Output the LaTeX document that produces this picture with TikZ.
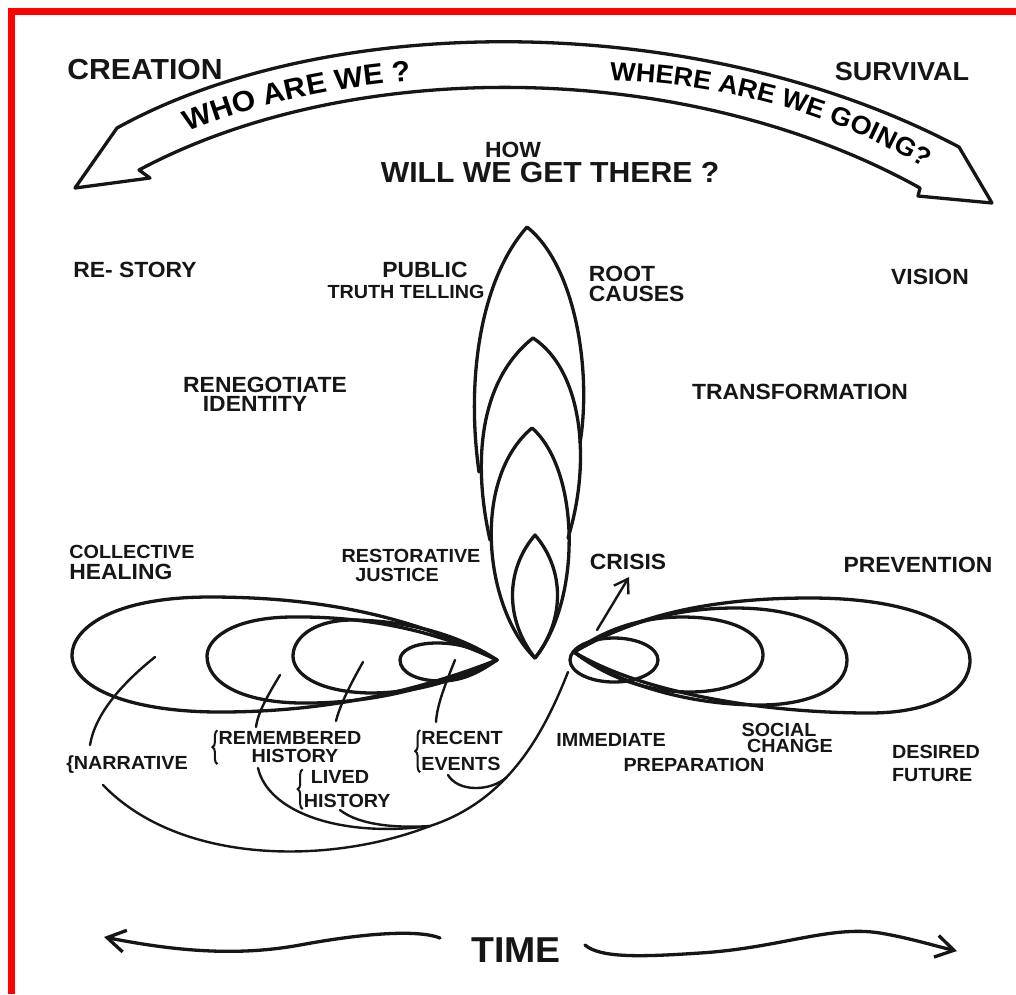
\documentclass[tikz,border=0pt]{standalone}
\usepackage{fontspec}
\setmainfont{Liberation Sans}[FakeStretch=1.04]
\usetikzlibrary{positioning,arrows.meta,decorations.text,decorations.pathreplacing}
\definecolor{cFrame}{HTML}{FF0000}
\definecolor{cInk}{HTML}{161616}
\newcommand\whofont{\bfseries\fontsize{29}{29}\selectfont}
\newcommand\wherefont{\bfseries\fontsize{26}{26}\selectfont}
\tikzset{
  >={Straight Barb[length=18pt,width=22pt]},
  ink/.style={line width=3.3pt,line cap=round,line join=round,draw=cInk},
  lead/.style={line width=2.4pt,line cap=round,draw=cInk},
  big/.style={font=\bfseries\fontsize{29}{29}\selectfont,inner sep=1pt,text=cInk},
  lbl/.style={font=\bfseries\fontsize{22}{22}\selectfont,inner sep=1pt,text=cInk},
  small/.style={font=\bfseries\fontsize{19}{19}\selectfont,inner sep=1pt,text=cInk},
  curly/.style={decorate,decoration={brace,amplitude=5pt},line width=2pt,draw=cInk},
  arctext/.style={decorate,decoration={text along path,text align=center,text={#1}}},
}
\begin{document}
\begin{tikzpicture}[x=1pt,y=-1pt]
  \fill[white] (0,0) rectangle (1016,994);
  \useasboundingbox (0,0) rectangle (1016,994);
  \draw[cFrame,line width=7pt] (11.5,994) -- (11.5,11.5) -- (1016,11.5);

  % banner across the top
  \draw[ink] (139,170) .. controls (350,57) and (684,57) .. (920,188) -- (918,196) -- (992,203) -- (959,147)
    .. controls (700,10) and (330,10) .. (117,128) -- (75,188) -- (150,178) -- cycle;
  \path[arctext={|\whofont|WHO ARE WE ?}] (172,138) .. controls (250,105) and (330,86) .. (428,80);
  \path[arctext={|\wherefont|WHERE ARE WE GOING?}] (596,80) .. controls (700,80) and (835,108) .. (936,176);

  \node[big] (creation) at (145,70) {CREATION};
  \node[big,font=\bfseries\fontsize{26}{26}\selectfont] (survival) at (902,72) {SURVIVAL};
  \node[lbl] (how) at (513,150) {HOW};
  \node[big,below=2pt of how,xshift=37pt] (getthere) {WILL WE GET THERE ?};

  % vertical flame
  \draw[ink] (479,472) .. controls (466,380) and (480,280) .. (527,227) .. controls (575,265) and (592,370) .. (580,443);
  \draw[ink] (490,540) .. controls (472,460) and (480,380) .. (533,338) .. controls (582,370) and (592,460) .. (568,538);
  \draw[ink] (535,658) .. controls (485,610) and (470,480) .. (532,428) .. controls (580,470) and (582,600) .. (535,658);
  \draw[ink] (535,658) .. controls (505,620) and (505,570) .. (535,535) .. controls (565,570) and (565,620) .. (535,658);

  % loops to the left (past)
  \draw[ink] (497,660) .. controls (420,620) and (330,597) .. (210,597) .. controls (110,597) and (72,630) .. (72,655)
    .. controls (72,688) and (130,712) .. (220,712) .. controls (330,712) and (420,690) .. (497,660);
  \draw[ink] (497,660) .. controls (430,628) and (360,616) .. (290,617) .. controls (230,618) and (207,640) .. (207,656)
    .. controls (207,682) and (240,702) .. (300,703) .. controls (380,704) and (440,684) .. (497,660);
  \draw[ink] (497,660) .. controls (455,632) and (400,620) .. (350,620) .. controls (310,621) and (293,640) .. (293,656)
    .. controls (293,674) and (318,692) .. (370,693) .. controls (420,693) and (462,678) .. (497,660);
  \draw[ink] (497,660) .. controls (470,645) and (452,643) .. (437,643) .. controls (413,643) and (400,651) .. (400,660)
    .. controls (400,672) and (416,681) .. (441,681) .. controls (465,681) and (482,670) .. (497,660);

  % loops to the right (future)
  \draw[ink] (614,660) ellipse [x radius=44,y radius=22];
  \draw[ink] (574,652) .. controls (610,625) and (650,617) .. (682,617) .. controls (738,617) and (763,636) .. (763,655)
    .. controls (763,678) and (728,692) .. (690,692) .. controls (645,692) and (605,676) .. (574,652);
  \draw[ink] (574,652) .. controls (630,620) and (680,608) .. (735,608) .. controls (810,608) and (847,635) .. (847,660)
    .. controls (847,688) and (810,705) .. (760,705) .. controls (690,705) and (620,685) .. (574,652);
  \draw[ink] (574,652) .. controls (640,612) and (720,598) .. (810,598) .. controls (920,598) and (970,630) .. (970,660)
    .. controls (970,692) and (930,713) .. (870,713) .. controls (760,713) and (640,692) .. (574,652);

  % labels
  \node[lbl] (restory) at (135,270) {RE- STORY};
  \node[lbl] (public) at (425,270) {PUBLIC};
  \node[small,below=5pt of public,xshift=-19pt,fill=white] (truth) {TRUTH TELLING};
  \node[lbl] (root) at (622,274) {ROOT};
  \node[lbl,below=1.5pt of root.south west,anchor=north west] (causes) {CAUSES};
  \node[lbl] (vision) at (930,277) {VISION};
  \node[lbl] (reneg) at (265,385) {RENEGOTIATE};
  \node[lbl,below=1.5pt of reneg,xshift=-10pt] (identity) {IDENTITY};
  \node[lbl] (transf) at (800,392) {TRANSFORMATION};
  \node[small] (collective) at (132,552) {COLLECTIVE};
  \node[lbl,below=2.5pt of collective.south west,anchor=north west] (healing) {HEALING};
  \node[small] (restorative) at (411,556) {RESTORATIVE};
  \node[small,below=3.5pt of restorative,xshift=-14pt] (justice) {JUSTICE};
  \node[lbl] (crisis) at (628,562) {CRISIS};
  \node[lbl] (prevention) at (918,565) {PREVENTION};

  \node[small] (narr) at (127,765) {\{NARRATIVE};
  \node[small] (remembered) at (290,738) {REMEMBERED};
  \node[small,below=2.5pt of remembered,xshift=5pt] (rhistory) {HISTORY};
  \node[small] (lived) at (340,777) {LIVED};
  \node[small,below=8.5pt of lived.south west,anchor=north west,xshift=-7pt] (lhistory) {HISTORY};
  \node[small] (recent) at (462,738) {RECENT};
  \node[small,below=10.5pt of recent.south west,anchor=north west] (events) {EVENTS};
  \node[small] (immediate) at (611,740) {IMMEDIATE};
  \node[small] (preparation) at (694,765) {PREPARATION};
  \node[small] (social) at (779,730) {SOCIAL};
  \node[small,below=0pt of social,xshift=11pt] (change) {CHANGE};
  \node[small] (desired) at (936,752) {DESIRED};
  \node[small,below=7.5pt of desired.south west,anchor=north west] (future) {FUTURE};

  \draw[curly] (remembered.west |- rhistory.south) -- (remembered.north west);
  \draw[curly] (lhistory.south west) -- (lhistory.west |- lived.north);
  \draw[curly] (events.south west) -- (events.west |- recent.north);

  % leaders from the loops to their labels
  \coordinate (in1) at (155,657);  \coordinate (narrtip) at (90,745);
  \coordinate (in2) at (280,675);  \coordinate (remtip) at (256,727);
  \coordinate (in3) at (363,662);  \coordinate (livtip) at (336,721);
  \coordinate (in4) at (455,660);  \coordinate (rectip) at (436,722);
  \draw[lead] (in1) .. controls (120,685) and (95,715) .. (narrtip);
  \draw[lead] (in2) .. controls (268,695) and (258,712) .. (remtip);
  \draw[lead] (in3) .. controls (350,685) and (340,705) .. (livtip);
  \draw[lead] (in4) .. controls (445,685) and (437,705) .. (rectip);

  % tail sweeping back under the past
  \coordinate (tail) at (568,672);
  \coordinate (merge) at (430,826);
  \coordinate (rjoin) at (507,777);
  \coordinate (narrend) at (103,785);
  \coordinate (remfoot) at (258,768);
  \coordinate (livfoot) at (340,810);
  \coordinate (recfoot) at (448,775);
  \draw[lead] (tail) .. controls (545,730) and (510,800) .. (merge) .. controls (330,865) and (180,865) .. (narrend);
  \draw[lead] (remfoot) .. controls (268,812) and (340,838) .. (merge);
  \draw[lead] (livfoot) .. controls (360,826) and (400,828) .. (merge);
  \draw[lead] (recfoot) .. controls (458,792) and (490,792) .. (rjoin);

  \coordinate (crfoot) at (597,630);
  \coordinate (crhead) at (629,577);
  \draw[lead,-{Straight Barb[length=13pt,width=17pt]}] (crfoot) -- (crhead);

  % time axis
  \node[font=\bfseries\fontsize{36}{36}\selectfont,text=cInk,inner sep=1pt] (time) at (516,950) {TIME};
  \coordinate (tl0) at (440,938);
  \coordinate (tleft) at (104,937);
  \coordinate (tr0) at (585,945);
  \coordinate (tright) at (957,951);
  \draw[ink,->] (tl0) .. controls (420,930) and (370,932) .. (300,945) .. controls (240,956) and (180,952) .. (tleft);
  \draw[ink,->] (tr0) .. controls (600,958) and (640,957) .. (700,953) .. controls (780,948) and (830,925) .. (880,933)
    .. controls (910,938) and (935,946) .. (tright);
\end{tikzpicture}
\end{document}
